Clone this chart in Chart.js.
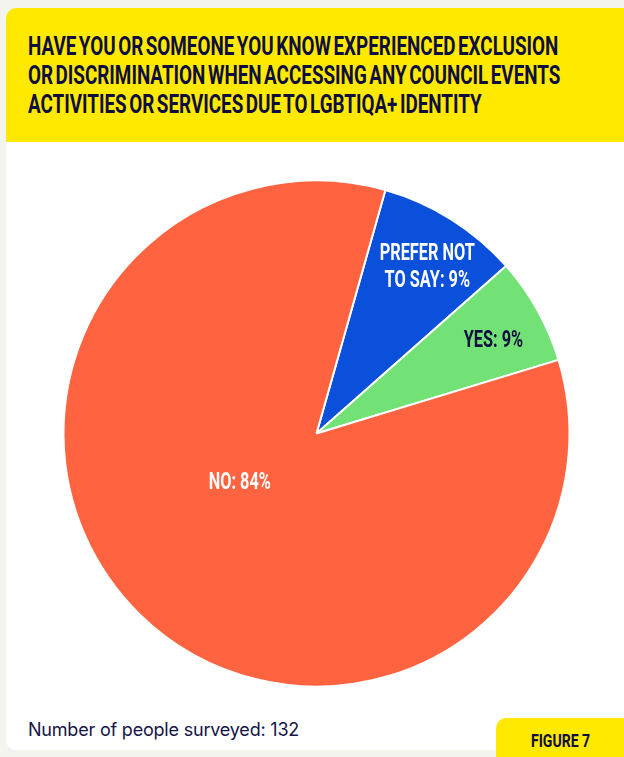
<!DOCTYPE html>
<html>
<head>
<meta charset="utf-8">
<script src="https://cdn.jsdelivr.net/npm/chart.js@4.4.1/dist/chart.umd.min.js"></script>
<style>
  html, body { margin: 0; padding: 0; }
  body { width: 624px; height: 757px; background: #f4f4ef; position: relative; overflow: hidden; font-family: Roboto, sans-serif; }
  .card { position: absolute; left: 6px; top: 8px; width: 640px; height: 742px; background: #fff; border-radius: 10px; overflow: hidden; }
  .header { position: absolute; left: 0; top: 0; width: 100%; height: 134px; background: #ffe900; }
  .title { position: absolute; left: 22px; top: 24px; margin: 0; color: #0e0e3e; font: 700 26px/29px Roboto, sans-serif; word-spacing: -3px; }
  .title span { display: block; white-space: nowrap; transform: scaleX(0.725); transform-origin: left center; }
  .note { position: absolute; left: 28px; top: 719px; color: #141446; font: 400 18px Inter, sans-serif; letter-spacing: -0.2px; }
  .tab { position: absolute; left: 496px; top: 718px; width: 140px; height: 50px; background: #ffe900; border-radius: 10px 0 0 0; }
  .tab span { position: absolute; left: 35px; top: 12px; color: #0e0e3e; font: 700 18px Roboto, sans-serif; white-space: nowrap; transform: scaleX(0.78); transform-origin: left center; }
  #wrap { position: absolute; left: 0; top: 142px; width: 624px; height: 575px; }
</style>
</head>
<body>
<div class="card">
  <div class="header">
    <h1 class="title">
      <span>HAVE YOU OR SOMEONE YOU KNOW EXPERIENCED EXCLUSION</span>
      <span>OR DISCRIMINATION WHEN ACCESSING ANY COUNCIL EVENTS</span>
      <span>ACTIVITIES OR SERVICES DUE TO LGBTIQA+ IDENTITY</span>
    </h1>
  </div>
</div>
<div id="wrap"><canvas id="pie"></canvas></div>
<div class="note">Number of people surveyed: 132</div>
<div class="tab"><span>FIGURE 7</span></div>

<script>
// answers, in drawing order (clockwise from the blue slice)
const categories = ['Prefer not to say', 'Yes', 'No'];
const responses = [12, 9, 111];
const sliceLabels = [['PREFER NOT', 'TO SAY: 9%'], ['YES: 9%'], ['NO: 84%']];
const sliceColors = ['#0b50da', '#72e276', '#ff633f'];
const labelColors = ['#ffffff', '#0e0e3e', '#ffffff'];

// label placement inside each slice: fraction of radius and angle shift (deg)
const labelRadius = [0.79, 0.79, 0.36];
const labelShift = [1.5, 1.5, 13];

const sliceText = {
    id: 'sliceText',
    afterDatasetsDraw(chart) {
        const ctx = chart.ctx;
        const arcs = chart.getDatasetMeta(0).data;
        arcs.forEach((arc, i) => {
            const mid = (arc.startAngle + arc.endAngle) / 2 + labelShift[i] * Math.PI / 180;
            const r = arc.outerRadius * labelRadius[i];
            const x = arc.x + Math.cos(mid) * r;
            const y = arc.y + Math.sin(mid) * r;
            const lines = sliceLabels[i];
            ctx.save();
            ctx.fillStyle = labelColors[i];
            ctx.font = '700 24px Roboto, sans-serif';
            ctx.textAlign = 'center';
            ctx.textBaseline = 'middle';
            lines.forEach((line, k) => {
                const ly = y + (k - (lines.length - 1) / 2) * 27;
                ctx.save();
                ctx.translate(x, ly);
                ctx.scale(0.68, 1);
                ctx.fillText(line, 0, 0);
                ctx.restore();
            });
            ctx.restore();
        });
    }
};

new Chart(document.getElementById('pie'), {
    type: 'pie',
    data: {
        labels: categories,
        datasets: [{
            data: responses,
            backgroundColor: sliceColors,
            borderColor: '#ffffff',
            borderWidth: 2
        }]
    },
    options: {
        responsive: true,
        maintainAspectRatio: false,
        animation: false,
        rotation: 15.8,
        radius: 253,
        layout: { padding: { left: 9, right: 0, top: 8, bottom: 0 } },
        plugins: {
            legend: { display: false },
            tooltip: { enabled: false }
        }
    },
    plugins: [sliceText]
});
</script>
</body>
</html>
